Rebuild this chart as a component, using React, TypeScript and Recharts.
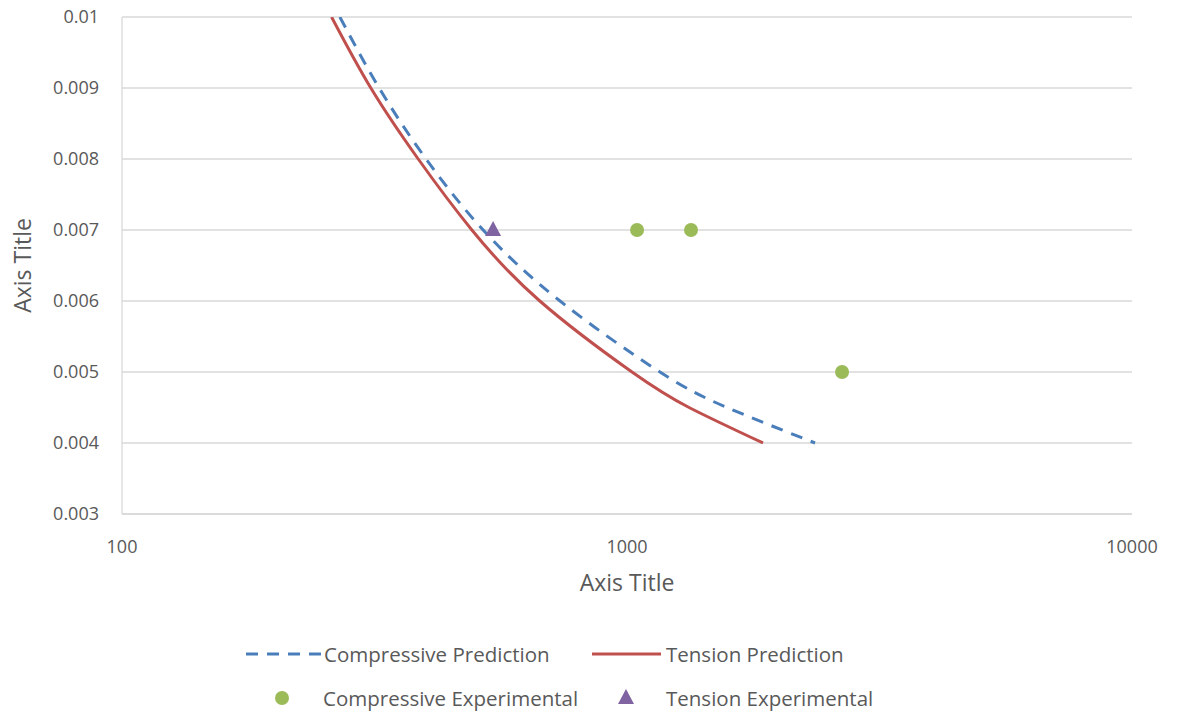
import {
  CartesianGrid,
  ComposedChart,
  Label,
  Legend,
  Line,
  Scatter,
  XAxis,
  YAxis,
} from "recharts";

// Prediction curves
const compressivePredX = [270, 323, 400, 519, 737, 1162, 1578, 2357];
const compressivePredY = [0.01, 0.009, 0.008, 0.007, 0.006, 0.005, 0.0045, 0.004];
const tensionPredX = [260, 311, 386, 493, 672, 1023, 1327, 1859];
const tensionPredY = [0.01, 0.009, 0.008, 0.007, 0.006, 0.005, 0.0045, 0.004];

// Experimental points
const compressiveExpX = [1047, 1339, 2666];
const compressiveExpY = [0.007, 0.007, 0.005];
const tensionExpX = [543];
const tensionExpY = [0.007];

const xTicks = [100, 1000, 10000];
const yTicks = [0.003, 0.004, 0.005, 0.006, 0.007, 0.008, 0.009, 0.01];

const seriesNames = [
  "Compressive Prediction",
  "Tension Prediction",
  "Compressive Experimental",
  "Tension Experimental",
];

const BLUE = "#4a7ebb";
const RED = "#c0504d";
const GREEN = "#9bbb59";
const PURPLE = "#8064a2";
const TEXT = "#595959";
const GRID = "#d9d9d9";
const FONT = "'Open Sans', sans-serif";

const zip = (xs: number[], ys: number[]) => xs.map((x, i) => ({ x, y: ys[i] }));

const compressivePred = zip(compressivePredX, compressivePredY);
const tensionPred = zip(tensionPredX, tensionPredY);
const compressiveExp = zip(compressiveExpX, compressiveExpY);
const tensionExp = zip(tensionExpX, tensionExpY);

const Circle = (p: any) => <circle cx={p.cx} cy={p.cy} r={7} fill={GREEN} />;
const Triangle = (p: any) => (
  <polygon
    points={`${p.cx},${p.cy - 9} ${p.cx - 8},${p.cy + 6} ${p.cx + 8},${p.cy + 6}`}
    fill={PURPLE}
  />
);

function renderLegend() {
  const t = { fontSize: 20.5, fill: TEXT, dominantBaseline: "central" as const };
  return (
    <svg width={1181} height={90} style={{ fontFamily: FONT }}>
      <line x1={246} y1={24} x2={322} y2={24} stroke={BLUE} strokeWidth={3} strokeDasharray="12 9" />
      <text x={324} y={24} {...t}>{seriesNames[0]}</text>
      <line x1={592} y1={24} x2={661} y2={24} stroke={RED} strokeWidth={3} />
      <text x={666} y={24} {...t}>{seriesNames[1]}</text>
      <Circle cx={282} cy={68} />
      <text x={323} y={68} {...t}>{seriesNames[2]}</text>
      <Triangle cx={626} cy={68} />
      <text x={666} y={68} {...t}>{seriesNames[3]}</text>
    </svg>
  );
}

export default function App() {
  const tick = { fill: TEXT, fontSize: 18, fontFamily: FONT };
  return (
    <div style={{ position: "absolute", left: 0, top: 0, background: "#fff" }}>
      <ComposedChart
        width={1181}
        height={717}
        margin={{ top: 17, right: 49, left: 0, bottom: 123 }}
      >
        <CartesianGrid vertical={false} stroke={GRID} strokeWidth={1.3} />
        <XAxis
          dataKey="x"
          type="number"
          scale="log"
          domain={[100, 10000]}
          ticks={xTicks}
          interval={0}
          allowDataOverflow
          tickLine={false}
          tickSize={0}
          tickMargin={26}
          axisLine={{ stroke: GRID, strokeWidth: 1.3 }}
          tick={tick}
          height={80}
        >
          <Label
            content={({ viewBox }: any) => (
              <text
                x={viewBox.x + viewBox.width / 2}
                y={viewBox.y + 68}
                textAnchor="middle"
                dominantBaseline="central"
                fill={TEXT}
                fontSize={23}
                fontFamily={FONT}
              >
                Axis Title
              </text>
            )}
          />
        </XAxis>
        <YAxis
          dataKey="y"
          type="number"
          domain={[0.003, 0.01]}
          ticks={yTicks}
          interval={0}
          allowDataOverflow
          tickLine={false}
          tickSize={0}
          tickMargin={23}
          axisLine={{ stroke: GRID, strokeWidth: 1.3 }}
          tick={tick}
          tickFormatter={(v: number) => String(Number(v.toFixed(3)))}
          width={122}
        >
          <Label
            content={({ viewBox }: any) => {
              const cx = 22;
              const cy = viewBox.y + viewBox.height / 2;
              return (
                <text
                  x={cx}
                  y={cy}
                  transform={`rotate(-90, ${cx}, ${cy})`}
                  textAnchor="middle"
                  dominantBaseline="central"
                  fill={TEXT}
                  fontSize={23}
                  fontFamily={FONT}
                >
                  Axis Title
                </text>
              );
            }}
          />
        </YAxis>
        <Line
          data={compressivePred}
          dataKey="y"
          name={seriesNames[0]}
          type="natural"
          stroke={BLUE}
          strokeWidth={3}
          strokeDasharray="12 9"
          dot={false}
          activeDot={false}
          isAnimationActive={false}
        />
        <Line
          data={tensionPred}
          dataKey="y"
          name={seriesNames[1]}
          type="natural"
          stroke={RED}
          strokeWidth={3}
          dot={false}
          activeDot={false}
          isAnimationActive={false}
        />
        <Scatter
          data={compressiveExp}
          dataKey="y"
          name={seriesNames[2]}
          shape={Circle}
          isAnimationActive={false}
        />
        <Scatter
          data={tensionExp}
          dataKey="y"
          name={seriesNames[3]}
          shape={Triangle}
          isAnimationActive={false}
        />
        <Legend
          layout="horizontal"
          verticalAlign="middle"
          align="center"
          content={renderLegend}
          wrapperStyle={{ left: 0, top: 630, width: 1181, height: 90 }}
        />
      </ComposedChart>
    </div>
  );
}
